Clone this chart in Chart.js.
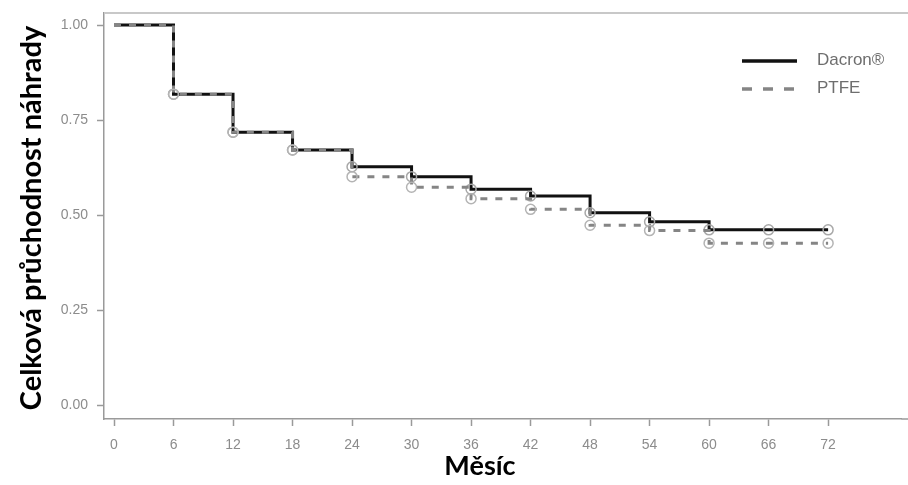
<!DOCTYPE html>
<html>
<head>
<meta charset="utf-8">
<script src="https://cdn.jsdelivr.net/npm/chart.js@4/dist/chart.umd.min.js"></script>
<style>
  html, body { margin: 0; padding: 0; background: #fff; }
  #wrap { width: 908px; height: 485px; }
</style>
</head>
<body>
<div id="wrap"><canvas id="km"></canvas></div>
<script>
// Kaplan–Meier estimates of overall graft patency by month
const months = [0, 6, 12, 18, 24, 30, 36, 42, 48, 54, 60, 66, 72];
const dacron = [1.00, 0.818, 0.718, 0.671, 0.627, 0.601, 0.568, 0.550, 0.506, 0.482, 0.461, 0.461, 0.461];
const ptfe   = [1.00, 0.818, 0.718, 0.671, 0.601, 0.573, 0.543, 0.515, 0.473, 0.459, 0.426, 0.426, 0.426];
const seriesNames = ['Dacron®', 'PTFE'];
const xTicks = [0, 6, 12, 18, 24, 30, 36, 42, 48, 54, 60, 66, 72];
const yTicks = [0, 0.25, 0.5, 0.75, 1.0];
const xTitle = 'Měsíc';
const yTitle = 'Celková průchodnost náhrady';

const toPoints = vals => months.map((m, i) => ({ x: m, y: vals[i] }));
// censoring marks at every visit after baseline
const censorRadius = months.map((m, i) => (i === 0 ? 0 : 5));

const tickFont = { family: '"Liberation Sans", Arial, sans-serif', size: 14 };
const tickColor = '#8c8c8c';
const axisColor = '#9a9a9a';

const axisTitles = {
  id: 'axisTitles',
  afterDraw(chart) {
    const { ctx } = chart;
    ctx.save();
    ctx.fillStyle = '#000';
    ctx.textAlign = 'center';
    ctx.textBaseline = 'middle';
    ctx.font = 'bold 27px Lato, "Open Sans", sans-serif';
    ctx.fillText(xTitle, 480, 466);
    ctx.font = 'bold 29px Lato, "Open Sans", sans-serif';
    ctx.translate(32, 218);
    ctx.rotate(-Math.PI / 2);
    ctx.fillText(yTitle, 0, 0);
    ctx.restore();
  }
};

// panel frame: light top rule and the axis rule carried to the canvas edge
const panelFrame = {
  id: 'panelFrame',
  beforeDatasetsDraw(chart) {
    const { ctx, chartArea: a } = chart;
    ctx.save();
    ctx.strokeStyle = '#c8c8c8';
    ctx.lineWidth = 2;
    ctx.beginPath();
    ctx.moveTo(a.left, a.top);
    ctx.lineTo(chart.width, a.top);
    ctx.stroke();
    ctx.strokeStyle = axisColor;
    ctx.lineWidth = 1.5;
    ctx.beginPath();
    ctx.moveTo(a.right, a.bottom);
    ctx.lineTo(chart.width, a.bottom);
    ctx.stroke();
    ctx.restore();
  }
};

const lineLegend = {
  id: 'lineLegend',
  afterDraw(chart) {
    const { ctx } = chart;
    ctx.save();
    const rows = [61, 89];
    chart.data.datasets.forEach((ds, i) => {
      const y = rows[i];
      ctx.strokeStyle = ds.borderColor;
      ctx.lineWidth = 3.5;
      ctx.setLineDash(i === 0 ? [] : [10, 11]);
      ctx.beginPath();
      ctx.moveTo(742, y);
      ctx.lineTo(797, y);
      ctx.stroke();
      ctx.setLineDash([]);
      ctx.fillStyle = '#6e6e6e';
      ctx.font = '17px "Liberation Sans", Arial, sans-serif';
      ctx.textAlign = 'left';
      ctx.textBaseline = 'middle';
      ctx.fillText(ds.label, 817, y - 1);
    });
    ctx.restore();
  }
};

new Chart(document.getElementById('km'), {
  type: 'line',
  data: {
    datasets: [
      {
        label: seriesNames[0],
        data: toPoints(dacron),
        stepped: 'before',
        borderColor: '#111111',
        borderWidth: 3,
        pointRadius: censorRadius,
        pointBorderColor: '#a8a8a8',
        pointBackgroundColor: 'rgba(255,255,255,0)',
        pointBorderWidth: 1.5,
        order: 2
      },
      {
        label: seriesNames[1],
        data: toPoints(ptfe),
        stepped: 'before',
        borderColor: '#858585',
        borderWidth: 3,
        borderDash: [7, 8],
        pointRadius: censorRadius,
        pointBorderColor: '#b4b4b4',
        pointBackgroundColor: 'rgba(255,255,255,0)',
        pointBorderWidth: 1.5,
        order: 1
      }
    ]
  },
  options: {
    responsive: true,
    maintainAspectRatio: false,
    animation: false,
    layout: { padding: { top: 13, right: 0, left: 0, bottom: 0 } },
    plugins: { legend: { display: false }, tooltip: { enabled: false } },
    scales: {
      x: {
        type: 'linear',
        min: -1.01,
        max: 79.4,
        afterBuildTicks: s => { s.ticks = xTicks.map(v => ({ value: v })); },
        afterFit: s => { s.height = 66; s.paddingLeft = 0; s.paddingRight = 0; },
        ticks: { color: tickColor, font: tickFont, padding: 11, maxRotation: 0, autoSkip: false,
                 callback: v => String(v) },
        grid: { drawOnChartArea: false, drawTicks: true, tickLength: 7, tickColor: axisColor, tickWidth: 1.5 },
        border: { color: axisColor, width: 1.5 }
      },
      y: {
        type: 'linear',
        min: -0.0368,
        max: 1.0316,
        afterBuildTicks: s => { s.ticks = yTicks.map(v => ({ value: v })); },
        afterFit: s => { s.width = 104; s.paddingTop = 0; s.paddingBottom = 0; },
        ticks: { color: tickColor, font: tickFont, padding: 9, callback: v => Number(v).toFixed(2) },
        grid: { drawOnChartArea: false, drawTicks: true, tickLength: 7, tickColor: axisColor, tickWidth: 1.5 },
        border: { color: axisColor, width: 1.5 }
      }
    }
  },
  plugins: [panelFrame, lineLegend, axisTitles]
});
</script>
</body>
</html>
